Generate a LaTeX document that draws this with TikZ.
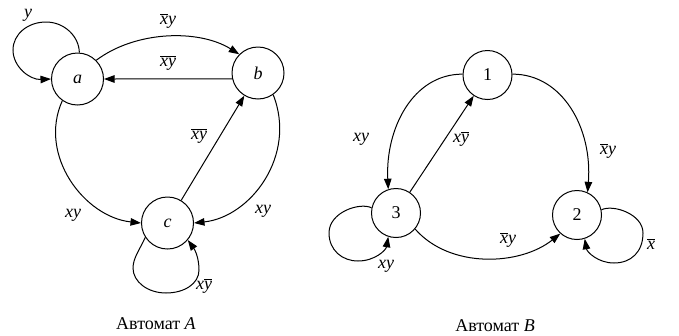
\documentclass[tikz,border=0pt]{standalone}
\usepackage{fontspec}
\setmainfont{Liberation Serif}
\usetikzlibrary{arrows.meta}

\newcommand{\xybar}{$\overline{\textit{xy}}$}
\newcommand{\xbary}{$\overline{\textit{x}}$\textit{y}}
\newcommand{\xyhat}{\textit{x}$\overline{\textit{y}}$}

\begin{document}
\begin{tikzpicture}[x=1pt,y=-1pt,
    font=\fontsize{18}{21}\selectfont,
    state/.style={circle,draw,line width=1pt,inner sep=0pt,minimum size=52pt},
    stateB/.style={state,minimum size=49pt},
    arc/.style={draw,line width=1pt,-{Triangle[length=10.5pt,width=7.5pt]}},
    lbl/.style={inner sep=0pt,font=\fontsize{18}{21}\selectfont\itshape}]
  \useasboundingbox (0,0) rectangle (679,335);

  % Automaton A
  \node[state] (a) at (77.5,79) {\textit{a}};
  \node[state] (b) at (258,73) {\textit{b}};
  \node[state] (c) at (167.5,223) {\textit{c}};

  % self loop on a
  \path[arc] (a.86) .. controls (79,36) and (64,22) .. (46,22)
                    .. controls (28,22) and (13,34) .. (13,50)
                    .. controls (13,67) and (30,80) .. (a.180);
  \path[arc] (a.45) .. controls +(40,-30) and +(-40,-25) .. (b.135);
  \path[arc] (b.193) -- (a.east);
  \path[arc] (c) -- (b);
  \path[arc] (a.235) .. controls +(-24.6,54.7) and +(-56.5,-6) .. (c.180);
  \path[arc] (b.305) .. controls +(24,61) and +(56.5,-6) .. (c.0);
  % self loop on c
  \path[arc] (c.213) .. controls (140,249) and (133,258) .. (133,268)
                     .. controls (133,282) and (148,293) .. (166,293)
                     .. controls (184,293) and (199,284) .. (199,270)
                     .. controls (199,258) and (195,250) .. (c.320);

  \node[lbl] (la1) at (28,15) {y};
  \node[lbl] (la2) at (168,21) {\xbary};
  \node[lbl] (la3) at (168,63) {\xybar};
  \node[lbl] (la4) at (199,136) {\xybar};
  \node[lbl] (la5) at (73,215) {xy};
  \node[lbl] (la6) at (263,211) {xy};
  \node[lbl] (la7) at (204,286) {\xyhat};
  \node (ta) at (156,324) {Автомат \textit{A}};

  % Automaton B
  \node[stateB] (s1) at (487.5,75) {1};
  \node[stateB] (s3) at (396,213) {3};
  \node[stateB] (s2) at (577,215) {2};

  \path[arc] (s1.178) .. controls +(-50,0) and +(-3,-60) .. (s3.108);
  \path[arc] (s3) -- (s1);
  \path[arc] (s1.2) .. controls +(50,0) and +(5,-64) .. (s2.65);
  \path[arc] (s3.320) .. controls +(35,40) and +(-40,32) .. (s2.228);
  % self loop on 3
  \path[arc] (s3.168) .. controls (360,202) and (329,212) .. (329,233)
                      .. controls (329,250) and (342,261) .. (358,261)
                      .. controls (375,261) and (386,250) .. (s3.252);
  % self loop on 2
  \path[arc] (s2.12) .. controls (613,204) and (643,214) .. (643,233)
                     .. controls (643,252) and (631,263) .. (614,263)
                     .. controls (598,263) and (587,252) .. (s2.288);

  \node[lbl] (lb1) at (361,139) {xy};
  \node[lbl] (lb2) at (461,139) {\xyhat};
  \node[lbl] (lb3) at (608,151) {\xbary};
  \node[lbl] (lb4) at (508,240) {\xbary};
  \node[lbl] (lb5) at (386,266) {xy};
  \node[lbl] (lb6) at (651,244) {$\overline{\textit{x}}$};
  \node (tb) at (495,326) {Автомат \textit{B}};
\end{tikzpicture}
\end{document}
